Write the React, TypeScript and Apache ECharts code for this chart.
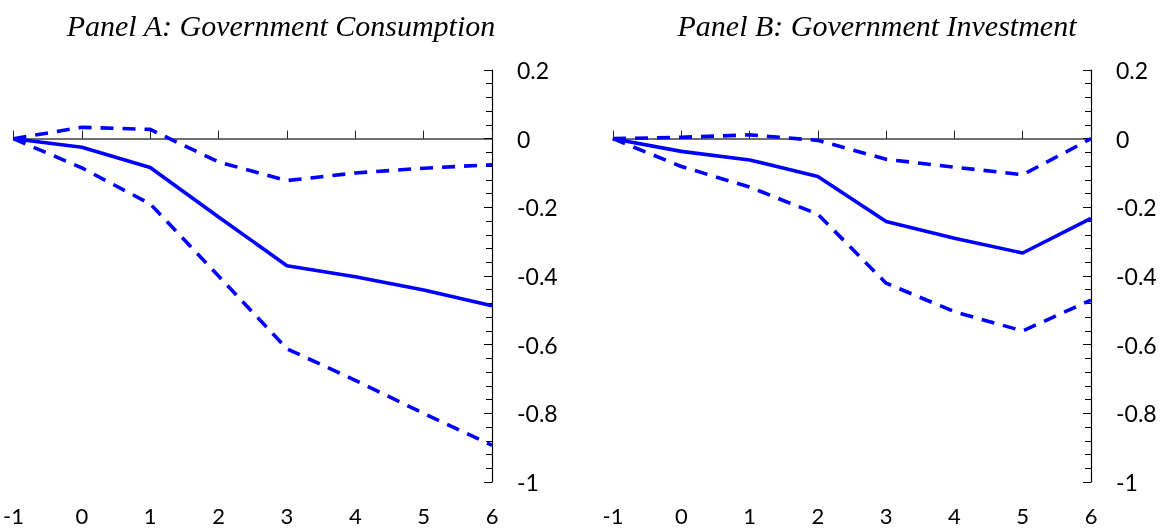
import React, { useEffect, useRef } from "react";
import * as echarts from "echarts";

const horizons = [-1, 0, 1, 2, 3, 4, 5, 6];
const xTickLabels = ["-1", "0", "1", "2", "3", "4", "5", "6"];
const yTickValues = [0.2, 0, -0.2, -0.4, -0.6, -0.8, -1];

const panelTitles = ["Panel A: Government Consumption", "Panel B: Government Investment"];

// Panel A: Government Consumption
const consMean = [0, -0.025, -0.084, -0.228, -0.37, -0.402, -0.441, -0.487];
const consUpper = [0, 0.033, 0.027, -0.068, -0.122, -0.1, -0.086, -0.076];
const consLower = [0, -0.085, -0.19, -0.4, -0.612, -0.704, -0.8, -0.893];

// Panel B: Government Investment
const invMean = [0, -0.037, -0.062, -0.11, -0.241, -0.29, -0.333, -0.232];
const invUpper = [0, 0.004, 0.011, -0.005, -0.06, -0.083, -0.105, 0];
const invLower = [0, -0.081, -0.141, -0.22, -0.421, -0.504, -0.56, -0.47];

const BLUE = "#0000FF";
const LABEL_FONT = "Lato";

function pairs(vals: number[]) {
  return horizons.map((h, i) => [h, vals[i]]);
}

export default function App() {
  const ref = useRef<HTMLDivElement>(null);
  useEffect(() => {
    if (!ref.current) return;
    const chart = echarts.init(ref.current, null, { renderer: "svg" });

    const grids = [
      { left: 13, top: 70, width: 479, height: 412 },
      { left: 613, top: 70, width: 478, height: 412 },
    ];

    const xAxes: any[] = [];
    const yAxes: any[] = [];
    grids.forEach((_, gi) => {
      xAxes.push({
        type: "value",
        gridIndex: gi,
        min: -1,
        max: 6,
        interval: 1,
        position: "bottom",
        axisLine: { show: false, onZero: false },
        axisTick: { show: false },
        splitLine: { show: false },
        axisLabel: {
          margin: 22,
          fontFamily: LABEL_FONT,
          fontSize: 22,
          lineHeight: 22,
          color: "#000",
          formatter: (v: number) => xTickLabels[horizons.indexOf(v)] ?? "",
        },
      });
      xAxes.push({
        type: "value",
        gridIndex: gi,
        min: -1,
        max: 6,
        interval: 1,
        position: "top",
        axisLine: { show: true, onZero: true, lineStyle: { color: "#404040", width: 1.6 } },
        axisTick: { show: true, length: 8, lineStyle: { color: "#202020", width: 1 } },
        axisLabel: { show: false },
        splitLine: { show: false },
      });
      yAxes.push({
        type: "value",
        gridIndex: gi,
        min: -1,
        max: 0.2,
        interval: 0.2,
        position: "right",
        axisLine: { show: true, onZero: false, lineStyle: { color: "#000", width: 1.2 } },
        axisTick: { show: true, inside: true, length: 8, lineStyle: { color: "#000", width: 1 } },
        minorTick: { show: true, splitNumber: 5, length: 6, lineStyle: { color: "#000", width: 1 } },
        splitLine: { show: false },
        axisLabel: {
          margin: 25,
          fontFamily: LABEL_FONT,
          fontSize: 23,
          color: "#000",
          formatter: (v: number) => {
            const r = Math.round(v * 10) / 10;
            const found = yTickValues.find((t) => Math.abs(t - r) < 1e-9);
            return found === undefined ? "" : String(found);
          },
        },
      });
    });

    const mk = (vals: number[], gi: number, dashed: boolean) => ({
      type: "line",
      xAxisIndex: gi * 2,
      yAxisIndex: gi,
      data: pairs(vals),
      showSymbol: false,
      symbol: "none",
      lineStyle: {
        color: BLUE,
        width: 3.6,
        type: dashed ? [13, 9] : "solid",
        cap: "butt",
      },
      z: dashed ? 3 : 4,
    });

    chart.setOption({
      animation: false,
      grid: grids,
      xAxis: xAxes,
      yAxis: yAxes,
      series: [
        mk(consUpper, 0, true),
        mk(consLower, 0, true),
        mk(consMean, 0, false),
        mk(invUpper, 1, true),
        mk(invLower, 1, true),
        mk(invMean, 1, false),
      ],
      graphic: panelTitles.map((t, i) => ({
        type: "text",
        x: i === 0 ? 281 : 877,
        y: 25,
        style: {
          text: t,
          font: 'italic 30px "Liberation Serif"',
          fill: "#000",
          textAlign: "center",
          textVerticalAlign: "middle",
        },
      })),
    });
    return () => chart.dispose();
  }, []);
  return (
    <div
      ref={ref}
      style={{ position: "fixed", left: 0, top: 0, width: 1170, height: 529 }}
    />
  );
}
